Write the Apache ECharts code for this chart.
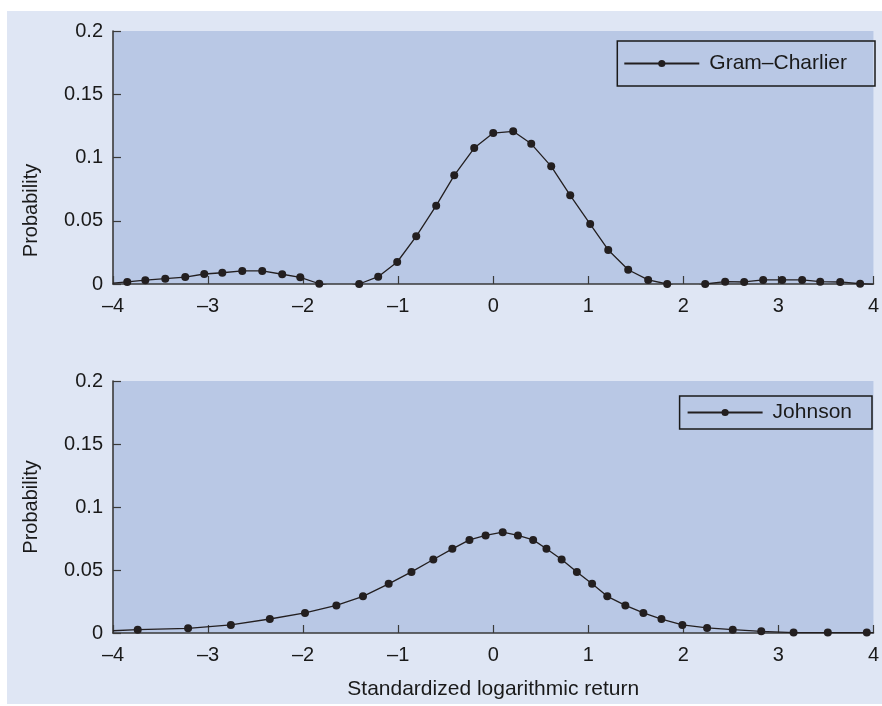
<!DOCTYPE html>
<html>
<head>
<meta charset="utf-8">
<script src="https://cdn.jsdelivr.net/npm/echarts@6/dist/echarts.min.js"></script>
<style>
  html, body { margin: 0; padding: 0; background: #fff; }
  #chart { width: 882px; height: 706px; }
</style>
</head>
<body>
<div id="chart"></div>
<script>
// Gram–Charlier (upper panel)
var gcX = [-4, -3.85, -3.66, -3.45, -3.24, -3.04, -2.85, -2.64, -2.43, -2.22, -2.03, -1.83, -1.62, -1.41,
  -1.21, -1.01, -0.81, -0.60, -0.41, -0.20, 0.00, 0.21, 0.40, 0.61, 0.81, 1.02, 1.21, 1.42, 1.63, 1.83,
  2.03, 2.23, 2.44, 2.64, 2.84, 3.04, 3.25, 3.44, 3.65, 3.86, 4];
var gcY = [0.0007, 0.0016, 0.0030, 0.0042, 0.0055, 0.0079, 0.0089, 0.0103, 0.0103, 0.0077, 0.0053, 0.0002, -0.0035, 0.0000,
  0.0058, 0.0174, 0.0377, 0.0619, 0.0859, 0.1075, 0.1193, 0.1207, 0.1108, 0.0930, 0.0701, 0.0474, 0.0269, 0.0113, 0.0032, 0.0000,
  -0.0040, 0.0000, 0.0018, 0.0016, 0.0032, 0.0032, 0.0032, 0.0018, 0.0016, 0.0002, -0.0004];

// Johnson (lower panel)
var jsX = [-4, -3.74, -3.21, -2.76, -2.35, -1.98, -1.65, -1.37, -1.10, -0.86, -0.63, -0.43, -0.25, -0.08, 0.10,
  0.26, 0.42, 0.56, 0.72, 0.88, 1.04, 1.20, 1.39, 1.58, 1.77, 1.99, 2.25, 2.52, 2.82, 3.16, 3.52, 3.93, 4];
var jsY = [0.0018, 0.0026, 0.0037, 0.0064, 0.0111, 0.0159, 0.0219, 0.0291, 0.0390, 0.0485, 0.0583, 0.0668, 0.0739, 0.0774, 0.0800,
  0.0774, 0.0739, 0.0668, 0.0583, 0.0485, 0.0390, 0.0291, 0.0219, 0.0159, 0.0111, 0.0064, 0.0040, 0.0026, 0.0013, 0.0003, 0.0003, 0.0003, 0.0003];

var xTicks = [-4, -3, -2, -1, 0, 1, 2, 3, 4];
var yTicks = [0, 0.05, 0.1, 0.15, 0.2];

var ink = '#231f20';
var axisInk = '#3a3a3a';
var font = 'Liberation Sans, Arial, Helvetica, sans-serif';

// pair x/y, first and last point carry no marker (line runs to the frame)
function toData(xs, ys) {
  var out = [];
  for (var i = 0; i < xs.length; i++) {
    if (i === 0 || i === xs.length - 1) {
      out.push({ value: [xs[i], ys[i]], symbol: 'none' });
    } else {
      out.push([xs[i], ys[i]]);
    }
  }
  return out;
}

function xAxisOf(idx, withName) {
  var ax = {
    type: 'value',
    gridIndex: idx,
    min: xTicks[0],
    max: xTicks[xTicks.length - 1],
    interval: 1,
    axisLine: { show: true, onZero: false, lineStyle: { color: axisInk, width: 1.6 } },
    axisTick: { show: true, inside: true, length: 8, lineStyle: { color: axisInk, width: 1.2 } },
    splitLine: { show: false },
    axisLabel: {
      color: '#1a1a1a', fontSize: 20, fontFamily: font, margin: 12,
      formatter: function (v) { return String(v).replace('-', '\u2013'); }
    }
  };
  if (withName) {
    ax.name = 'Standardized logarithmic return';
    ax.nameLocation = 'middle';
    ax.nameGap = 46;
    ax.nameTextStyle = { color: '#1a1a1a', fontSize: 21, fontFamily: font };
  }
  return ax;
}

// shiftDown: the upper panel's name sits below the middle of its axis
function yAxisOf(idx, shiftDown) {
  return {
    type: 'value',
    gridIndex: idx,
    min: yTicks[0],
    max: yTicks[yTicks.length - 1],
    interval: 0.05,
    name: 'Probability',
    nameLocation: 'middle',
    nameGap: 72,
    nameTextStyle: { color: '#1a1a1a', fontSize: 20, fontFamily: font, padding: [0, shiftDown * 2, 0, 0] },
    axisLine: { show: true, onZero: false, lineStyle: { color: axisInk, width: 1.6 } },
    axisTick: { show: true, inside: true, length: 8, lineStyle: { color: axisInk, width: 1.2 } },
    splitLine: { show: false },
    axisLabel: { color: '#1a1a1a', fontSize: 20, fontFamily: font, margin: 10 }
  };
}

function seriesOf(name, idx, xs, ys) {
  return {
    name: name,
    type: 'line',
    xAxisIndex: idx,
    yAxisIndex: idx,
    data: toData(xs, ys),
    symbol: 'circle',
    symbolSize: 8,
    showAllSymbol: true,
    lineStyle: { color: ink, width: 1.3 },
    itemStyle: { color: ink },
    emphasis: { disabled: true },
    animation: false
  };
}

function legendOf(name, top, right, padding) {
  return {
    data: [name],
    top: top,
    right: right,
    orient: 'vertical',
    itemWidth: 75,
    itemHeight: 9,
    padding: padding,
    borderColor: '#1a1a1a',
    borderWidth: 1.5,
    borderRadius: 0,
    selectedMode: false,
    textStyle: { color: '#1a1a1a', fontSize: 21, fontFamily: font, padding: [0, 0, 0, 5] }
  };
}

var myChart = echarts.init(document.getElementById('chart'));
var option = {
  backgroundColor: '#ffffff',
  animation: false,
  graphic: [{
    type: 'rect', z: -10, silent: true,
    shape: { x: 7, y: 11, width: 875, height: 693 },
    style: { fill: '#dfe6f4' }
  }],
  grid: [
    { left: 113, top: 31, width: 764, height: 253, show: true, backgroundColor: '#b9c8e5', borderWidth: 0 },
    { left: 113, top: 381, width: 764, height: 252, show: true, backgroundColor: '#b9c8e5', borderWidth: 0 }
  ],
  legend: [
    legendOf('Gram\u2013Charlier', 41, 7, [12, 28, 12, 6]),
    legendOf('Johnson', 396, 10, [6, 20, 6, 7])
  ],
  xAxis: [xAxisOf(0, false), xAxisOf(1, true)],
  yAxis: [yAxisOf(0, 53), yAxisOf(1, 0)],
  series: [
    seriesOf('Gram\u2013Charlier', 0, gcX, gcY),
    seriesOf('Johnson', 1, jsX, jsY)
  ]
};
myChart.setOption(option);
</script>
</body>
</html>
